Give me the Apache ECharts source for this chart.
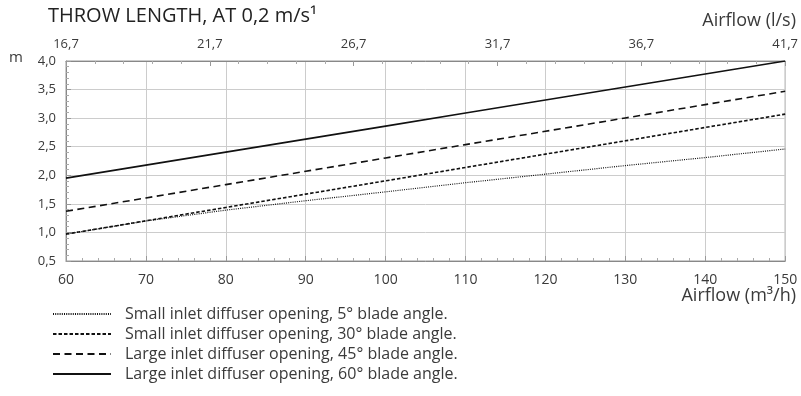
<!DOCTYPE html>
<html>
<head>
<meta charset="UTF-8">
<title></title>
<script src="https://cdn.jsdelivr.net/npm/echarts@6/dist/echarts.min.js"></script>
</head>
<body style="margin:0;">
<div id="chart" style="width: 801px; height: 396px;"></div>
<script type="text/javascript">
// airflow in m3/h (bottom axis)
var airflow = [60, 70, 80, 90, 100, 110, 120, 130, 140, 150];
// throw length in m
var small5 = [0.97, 1.2, 1.39, 1.555, 1.71, 1.87, 2.02, 2.17, 2.31, 2.46];
var small30 = [0.97, 1.203, 1.437, 1.67, 1.903, 2.137, 2.37, 2.603, 2.837, 3.07];
var large45 = [1.37, 1.603, 1.837, 2.07, 2.303, 2.537, 2.77, 3.003, 3.237, 3.47];
var large60 = [1.95, 2.178, 2.406, 2.633, 2.861, 3.089, 3.317, 3.544, 3.772, 4.0];
var seriesNames = [
  'Small inlet diffuser opening, 5° blade angle.',
  'Small inlet diffuser opening, 30° blade angle.',
  'Large inlet diffuser opening, 45° blade angle.',
  'Large inlet diffuser opening, 60° blade angle.'
];
// top axis: l/s, drawn as offset from first label
var lsStart = 16.7;

var chart = echarts.init(document.getElementById('chart'));
var font = 'Open Sans';
var txt = '#3a3a3a';

function pairs(ys) {
  return airflow.map(function(x, i) { return [x, ys[i]]; });
}
function comma(v, d) {
  return v.toFixed(d).replace('.', ',');
}
function mk(name, ys, type, width) {
  return {
    name: name, type: 'line', data: pairs(ys), symbol: 'none', silent: true,
    itemStyle: { color: '#111' },
    lineStyle: { color: '#111', width: width, type: type }
  };
}

var option = {
  animation: false,
  textStyle: { fontFamily: font },
  grid: { left: 66, right: 11, top: 61, bottom: 135, show: true, borderColor: '#999', borderWidth: 1 },
  graphic: [
    { type: 'text', left: 48, top: 6, style: { text: 'THROW LENGTH, AT 0,2 m/s¹', font: '20px ' + font, fill: '#222' } },
    { type: 'text', left: 9, top: 50, style: { text: 'm', font: '15px ' + font, fill: txt } },
    { type: 'text', right: 5, top: 12, style: { text: 'Airflow (l/s)', font: '18px ' + font, fill: txt } },
    { type: 'text', right: 5, top: 287, style: { text: 'Airflow (m³/h)', font: '18px ' + font, fill: txt } }
  ],
  legend: {
    orient: 'vertical', left: 47, top: 301, itemWidth: 58, itemHeight: 14, itemGap: 4,
    itemStyle: { opacity: 0 },
    textStyle: { fontFamily: font, fontSize: 16, color: txt, padding: [0, 0, 0, 9] },
    data: seriesNames
  },
  xAxis: [{
    type: 'value', min: 60, max: 150, interval: 10, position: 'bottom',
    axisLine: { lineStyle: { color: '#888' } },
    axisTick: { inside: true, length: 5, lineStyle: { color: '#999' } },
    minorTick: { show: true, splitNumber: 5, length: 3, lineStyle: { color: '#aaa' } },
    axisLabel: { color: txt, fontSize: 14, margin: 12, fontFamily: font },
    splitLine: { lineStyle: { color: '#ccc' } }
  }, {
    type: 'value', min: 0, max: 25, interval: 5, position: 'top',
    axisLine: { lineStyle: { color: '#888' } },
    axisTick: { inside: true, length: 5, lineStyle: { color: '#999' } },
    minorTick: { show: true, splitNumber: 5, length: 3, lineStyle: { color: '#aaa' } },
    axisLabel: { color: txt, fontSize: 13, margin: 10, fontFamily: font,
      formatter: function(v) { return comma(v + lsStart, 1); } },
    splitLine: { show: false }
  }],
  yAxis: {
    type: 'value', min: 0.5, max: 4.0, interval: 0.5,
    axisLine: { show: true, lineStyle: { color: '#888' } },
    axisTick: { show: true, inside: true, length: 5, lineStyle: { color: '#999' } },
    minorTick: { show: true, splitNumber: 5, length: 3, lineStyle: { color: '#aaa' } },
    axisLabel: { color: txt, fontSize: 13, margin: 10, fontFamily: font,
      formatter: function(v) { return comma(v, 1); } },
    splitLine: { lineStyle: { color: '#ccc' } }
  },
  series: [
    mk(seriesNames[0], small5, [1, 1.2], 1.2),
    mk(seriesNames[1], small30, [3.5, 2], 1.6),
    mk(seriesNames[2], large45, [7, 4.5], 1.6),
    mk(seriesNames[3], large60, 'solid', 1.6)
  ]
};

chart.setOption(option);
</script>
</body>
</html>
